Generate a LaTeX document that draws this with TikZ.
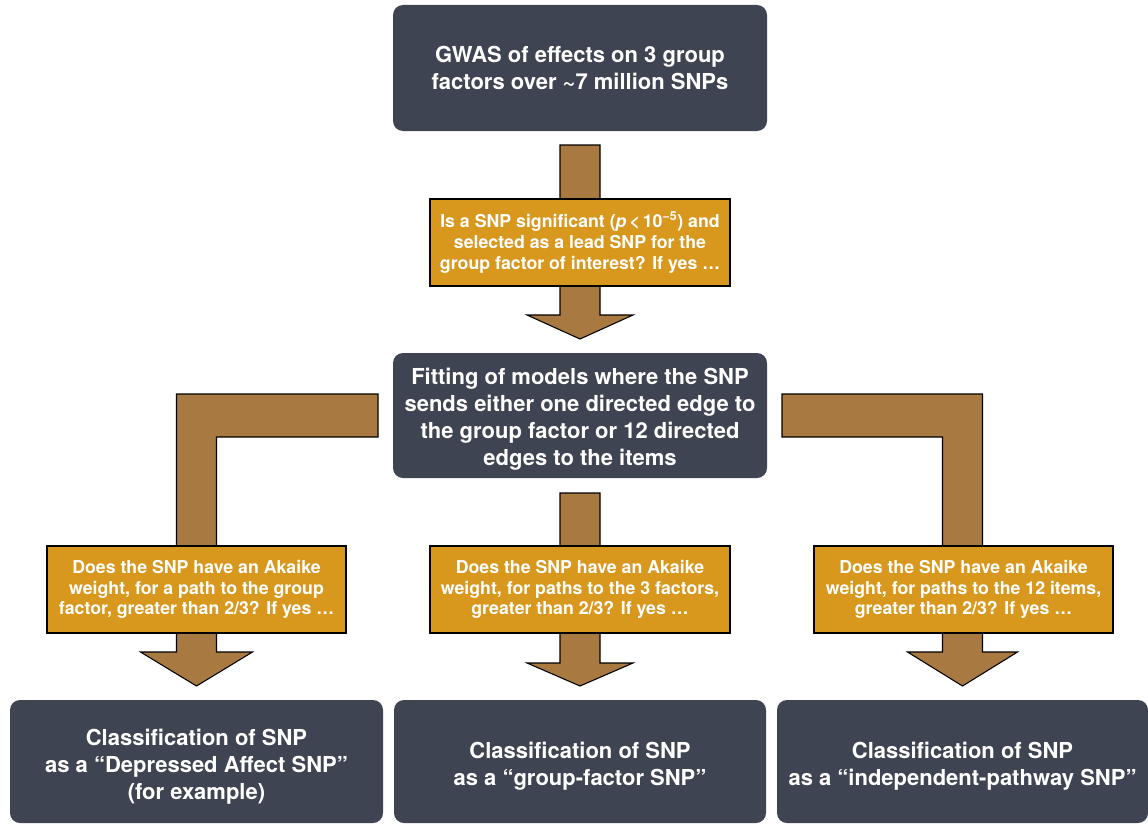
\documentclass[tikz,border=0pt]{standalone}
\usepackage{fontspec}
\setmainfont{TeX Gyre Heros}
\usetikzlibrary{calc}
\definecolor{slate}{RGB}{62,68,81}
\definecolor{brownarrow}{RGB}{168,121,64}
\definecolor{gold}{RGB}{216,152,30}
\begin{document}
\begin{tikzpicture}[x=0.75pt,y=-0.75pt,
  darkbox/.style={fill=slate,rounded corners=7.5pt,inner sep=0pt,outer sep=0pt,
    text=white,font=\fontsize{16.5}{20.2}\selectfont\bfseries,align=center},
  darktext/.style={text=white,font=\fontsize{16.5}{20.2}\selectfont\bfseries,align=center,inner sep=0pt},
  goldbox/.style={fill=gold,draw=black,line width=1.1pt,inner sep=0pt,outer sep=0pt,
    text=white,font=\fontsize{13.3}{15.6}\selectfont\bfseries,align=center,
    minimum height=65.25pt},
  barrow/.style={fill=brownarrow,draw=black,line width=0.8pt,line join=miter}]
\useasboundingbox (0,0) rectangle (1148,824);
% dark boxes
\node[darkbox,minimum width=280.5pt,minimum height=94.5pt] (top) at (580,68)
  {GWAS of effects on 3 group\\factors over \textasciitilde7 million SNPs};
\node[darkbox,minimum width=280.5pt,minimum height=93.75pt,
  label={[darktext,yshift=-3pt]center:Fitting of models where the SNP\\sends either one directed edge to\\the group factor or 12 directed\\edges to the items}] (mid) at (580,415.5) {};
\node[darkbox,minimum width=279.75pt,minimum height=92.25pt,
  label={[darktext,yshift=-3.6pt]center:Classification of SNP\\as a “Depressed Affect SNP”\\(for example)}] (botL) at (196.5,761.5) {};
\node[darkbox,minimum width=279pt,minimum height=92.25pt,
  label={[darktext,yshift=-3.6pt]center:Classification of SNP\\as a “group-factor SNP”}] (botM) at (580,761.5) {};
\node[darkbox,minimum width=278.25pt,minimum height=92.25pt,
  label={[darktext,yshift=-3.6pt]center:Classification of SNP\\as a “independent-pathway SNP”}] (botR) at (962.5,761.5) {};
% top straight arrow
\draw[barrow] ($(top.south)+(-20,14)$) -- ($(top.south)+(20,14)$)
  -- ($(mid.north)+(20,-38)$) -- ($(mid.north)+(53,-38)$)
  -- ($(mid.north)+(0,-14)$) -- ($(mid.north)+(-53,-38)$)
  -- ($(mid.north)+(-20,-38)$) -- cycle;
% middle straight arrow
\draw[barrow] ($(mid.south)+(-20,15)$) -- ($(mid.south)+(20,15)$)
  -- ($(botM.north)+(20,-37)$) -- ($(botM.north)+(53,-37)$)
  -- ($(botM.north)+(0,-14)$) -- ($(botM.north)+(-53,-37)$)
  -- ($(botM.north)+(-20,-37)$) -- cycle;
% left L arrow
\coordinate (LT) at ($(mid.west)+(-15,-21.5)$);
\coordinate (LB) at ($(mid.west)+(-15,21.5)$);
\coordinate (LH) at ($(botL.north)+(0,-48)$);
\coordinate (Ltip) at ($(botL.north)+(0,-14)$);
\draw[barrow] (LT) -- ($(LH |- LT)+(-20,0)$) -- ($(LH)+(-20,0)$)
  -- ($(LH)+(-56,0)$) -- (Ltip) -- ($(LH)+(56,0)$) -- ($(LH)+(20,0)$)
  -- ($(LH |- LB)+(20,0)$) -- (LB) -- cycle;
% right L arrow
\coordinate (RT) at ($(mid.east)+(15,-21.5)$);
\coordinate (RB) at ($(mid.east)+(15,21.5)$);
\coordinate (RH) at ($(botR.north)+(0,-48)$);
\coordinate (Rtip) at ($(botR.north)+(0,-14)$);
\draw[barrow] (RT) -- ($(RH |- RT)+(20,0)$) -- ($(RH)+(20,0)$)
  -- ($(RH)+(55,0)$) -- (Rtip) -- ($(RH)+(-55,0)$) -- ($(RH)+(-20,0)$)
  -- ($(RH |- RB)+(-20,0)$) -- (RB) -- cycle;
% gold question boxes
\node[goldbox,minimum width=225pt] (q1) at (580,242.5)
  {Is a SNP significant (\textit{p}\,<\,10\textsuperscript{\char"2212 5}) and\\selected as a lead SNP for the\\group factor of interest? If yes …};
\node[goldbox,minimum width=224.25pt] (qL) at (196.5,589.5)
  {Does the SNP have an Akaike\\weight, for a path to the group\\factor, greater than 2/3? If yes …};
\node[goldbox,minimum width=225pt] (qM) at (580,589.5)
  {Does the SNP have an Akaike\\weight, for paths to the 3 factors,\\greater than 2/3? If yes …};
\node[goldbox,minimum width=224.25pt] (qR) at (963.5,589.5)
  {Does the SNP have an Akaike\\weight, for paths to the 12 items,\\greater than 2/3? If yes …};
\end{tikzpicture}
\end{document}
